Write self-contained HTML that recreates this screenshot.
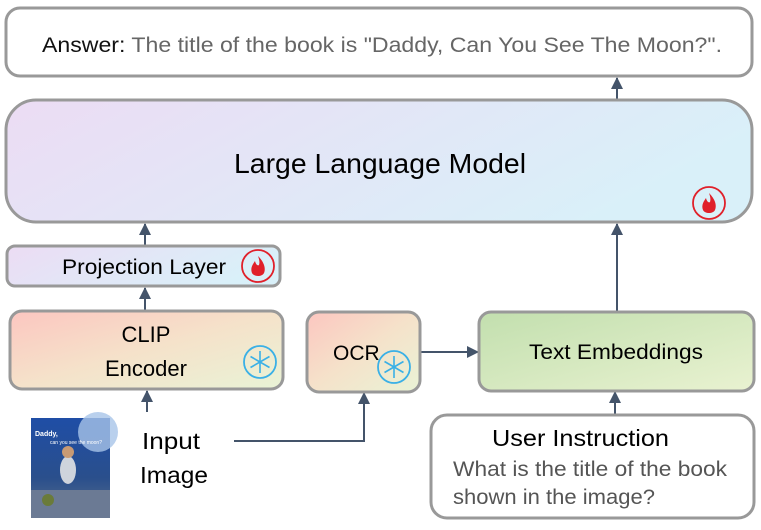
<!DOCTYPE html>
<html><head><meta charset="utf-8"><style>
html,body{margin:0;padding:0;background:#fff;}
svg{display:block;font-family:"Liberation Sans",sans-serif;}
</style></head><body>
<svg width="761" height="530" viewBox="0 0 761 530" xmlns="http://www.w3.org/2000/svg">
<defs>
<linearGradient id="llm" x1="0" y1="0" x2="1" y2="0.3"><stop offset="0" stop-color="#ecdcf4"/><stop offset="1" stop-color="#d9f0f9"/></linearGradient>
<linearGradient id="warm" x1="0" y1="0" x2="1" y2="1"><stop offset="0" stop-color="#fcc6c0"/><stop offset="0.5" stop-color="#f5e2ca"/><stop offset="1" stop-color="#e9f3d6"/></linearGradient>
<linearGradient id="green" x1="0" y1="0" x2="1" y2="1"><stop offset="0" stop-color="#c2dfae"/><stop offset="1" stop-color="#e9f2d1"/></linearGradient>
<linearGradient id="book" x1="0" y1="0" x2="0" y2="1"><stop offset="0" stop-color="#1f4ea6"/><stop offset="0.6" stop-color="#2a4f8c"/><stop offset="1" stop-color="#5a6f8a"/></linearGradient>
<marker id="ah" markerWidth="12" markerHeight="12" refX="11" refY="6" orient="auto" markerUnits="userSpaceOnUse"><path d="M0,0 L12,6 L0,12 Z" fill="#44546a"/></marker>
<g id="fire"><circle r="16" fill="none" stroke="#e0202a" stroke-width="1.8"/><path d="M0,-10 C6,-4 8,2 6,7 C4,11 -4,11 -6,7 C-8,2 -5,-2 -3,-5 C-2,-1 0,0 1,-1 C2,-4 1,-7 0,-10 Z" fill="#e0202a"/></g>
<g id="snow"><circle r="16" fill="none" stroke="#3ab0e6" stroke-width="1.8"/><g stroke="#3ab0e6" stroke-width="1.6"><line x1="0" y1="-11" x2="0" y2="11"/><line x1="-9.5" y1="-5.5" x2="9.5" y2="5.5"/><line x1="-9.5" y1="5.5" x2="9.5" y2="-5.5"/></g></g>
</defs>
<g fill="none" stroke="#44546a" stroke-width="2">
<line x1="617" y1="100" x2="617" y2="78" marker-end="url(#ah)"/>
<line x1="145" y1="246" x2="145" y2="224" marker-end="url(#ah)"/>
<line x1="145" y1="311" x2="145" y2="288" marker-end="url(#ah)"/>
<line x1="147" y1="412" x2="147" y2="391" marker-end="url(#ah)"/>
<polyline points="234,441 364,441 364,393" marker-end="url(#ah)"/>
<line x1="421" y1="352" x2="478" y2="352" marker-end="url(#ah)"/>
<line x1="617" y1="312" x2="617" y2="224" marker-end="url(#ah)"/>
<line x1="615" y1="415" x2="615" y2="392" marker-end="url(#ah)"/>
</g>
<rect x="6" y="8" width="746" height="68" rx="14" fill="#fff" stroke="#999" stroke-width="3"/>
<text x="42" y="52" font-size="21" textLength="680" lengthAdjust="spacingAndGlyphs"><tspan fill="#111">Answer: </tspan><tspan fill="#666">The title of the book is "Daddy, Can You See The Moon?".</tspan></text>
<rect x="6" y="100" width="746" height="122" rx="30" fill="url(#llm)" stroke="#999" stroke-width="3"/>
<text x="380" y="173" font-size="28" text-anchor="middle" textLength="292" lengthAdjust="spacingAndGlyphs">Large Language Model</text>
<use href="#fire" x="709" y="203"/>
<rect x="7" y="246" width="273" height="40" rx="8" fill="url(#llm)" stroke="#999" stroke-width="3"/>
<text x="62" y="274" font-size="21" textLength="164" lengthAdjust="spacingAndGlyphs">Projection Layer</text>
<use href="#fire" x="258" y="266"/>
<rect x="10" y="311" width="273" height="78" rx="12" fill="url(#warm)" stroke="#999" stroke-width="3"/>
<text x="146" y="342" font-size="22" text-anchor="middle">CLIP</text>
<text x="146" y="376" font-size="22" text-anchor="middle" textLength="82" lengthAdjust="spacingAndGlyphs">Encoder</text>
<use href="#snow" x="260" y="362"/>
<rect x="307" y="312" width="113" height="80" rx="12" fill="url(#warm)" stroke="#999" stroke-width="3"/>
<text x="333" y="360" font-size="21">OCR</text>
<use href="#snow" x="394" y="367"/>
<rect x="479" y="312" width="275" height="79" rx="12" fill="url(#green)" stroke="#999" stroke-width="3"/>
<text x="616" y="359" font-size="21" text-anchor="middle" textLength="174" lengthAdjust="spacingAndGlyphs">Text Embeddings</text>
<rect x="431" y="415" width="323" height="103" rx="16" fill="#fff" stroke="#999" stroke-width="3"/>
<text x="492" y="446" font-size="23" textLength="177" lengthAdjust="spacingAndGlyphs">User Instruction</text>
<text x="453" y="476" font-size="21" fill="#555" textLength="274" lengthAdjust="spacingAndGlyphs">What is the title of the book</text>
<text x="453" y="504" font-size="21" fill="#555" textLength="202" lengthAdjust="spacingAndGlyphs">shown in the image?</text>
<text x="142" y="449" font-size="23" textLength="58" lengthAdjust="spacingAndGlyphs">Input</text>
<text x="140" y="483" font-size="23" textLength="68" lengthAdjust="spacingAndGlyphs">Image</text>
<g>
<rect x="31" y="418" width="79" height="100" fill="url(#book)"/>
<circle cx="98" cy="432" r="20" fill="#a8c4e8" opacity="0.8"/>
<text x="35" y="436" font-size="7" fill="#fff" font-weight="bold">Daddy,</text>
<text x="50" y="444" font-size="5" fill="#fff">can you see the moon?</text>
<ellipse cx="68" cy="470" rx="8" ry="14" fill="#cfd4dc"/>
<circle cx="68" cy="452" r="6" fill="#c89a74"/>
<rect x="31" y="490" width="79" height="28" fill="#6b7a94"/>
<circle cx="48" cy="500" r="6" fill="#6a7b3a"/>
</g>
</svg>
</body></html>
